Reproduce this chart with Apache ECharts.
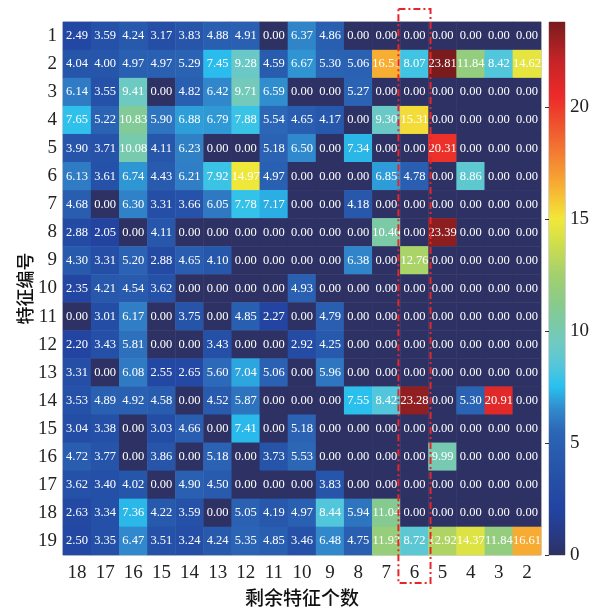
<!DOCTYPE html>
<html>
<head>
<meta charset="utf-8">
<script src="https://cdn.jsdelivr.net/npm/echarts@6/dist/echarts.min.js"></script>
<style>html,body{margin:0;padding:0;background:#fff;}#c{width:601px;height:608px;}</style>
</head>
<body>
<div id="c"></div>
<script>
// Remaining feature count (columns) and feature index (rows)
const remainCounts = ['18','17','16','15','14','13','12','11','10','9','8','7','6','5','4','3','2'];
const featureIds = ['1','2','3','4','5','6','7','8','9','10','11','12','13','14','15','16','17','18','19'];
// values[row][col]
const values = [
  [2.49,3.59,4.24,3.17,3.83,4.88,4.91,0.00,6.37,4.86,0.00,0.00,0.00,0.00,0.00,0.00,0.00],
  [4.04,4.00,4.97,4.97,5.29,7.45,9.28,4.59,6.67,5.30,5.06,16.51,8.07,23.81,11.84,8.42,14.62],
  [6.14,3.55,9.41,0.00,4.82,6.42,9.71,6.59,0.00,0.00,5.27,0.00,0.00,0.00,0.00,0.00,0.00],
  [7.65,5.22,10.83,5.90,6.88,6.79,7.88,5.54,4.65,4.17,0.00,9.30,15.31,0.00,0.00,0.00,0.00],
  [3.90,3.71,10.08,4.11,6.23,0.00,0.00,5.18,6.50,0.00,7.34,0.00,0.00,20.31,0.00,0.00,0.00],
  [6.13,3.61,6.74,4.43,6.21,7.92,14.97,4.97,0.00,0.00,0.00,6.85,4.78,0.00,8.86,0.00,0.00],
  [4.68,0.00,6.30,3.31,3.66,6.05,7.78,7.17,0.00,0.00,4.18,0.00,0.00,0.00,0.00,0.00,0.00],
  [2.88,2.05,0.00,4.11,0.00,0.00,0.00,0.00,0.00,0.00,0.00,10.40,0.00,23.39,0.00,0.00,0.00],
  [4.30,3.31,5.20,2.88,4.65,4.10,0.00,0.00,0.00,0.00,6.38,0.00,12.76,0.00,0.00,0.00,0.00],
  [2.35,4.21,4.54,3.62,0.00,0.00,0.00,0.00,4.93,0.00,0.00,0.00,0.00,0.00,0.00,0.00,0.00],
  [0.00,3.01,6.17,0.00,3.75,0.00,4.85,2.27,0.00,4.79,0.00,0.00,0.00,0.00,0.00,0.00,0.00],
  [2.20,3.43,5.81,0.00,0.00,3.43,0.00,0.00,2.92,4.25,0.00,0.00,0.00,0.00,0.00,0.00,0.00],
  [3.31,0.00,6.08,2.55,2.65,5.60,7.04,5.06,0.00,5.96,0.00,0.00,0.00,0.00,0.00,0.00,0.00],
  [3.53,4.89,4.92,4.58,0.00,4.52,5.87,0.00,0.00,0.00,7.55,8.42,23.28,0.00,5.30,20.91,0.00],
  [3.04,3.38,0.00,3.03,4.66,0.00,7.41,0.00,5.18,0.00,0.00,0.00,0.00,0.00,0.00,0.00,0.00],
  [4.72,3.77,0.00,3.86,0.00,5.18,0.00,3.73,5.53,0.00,0.00,0.00,0.00,9.99,0.00,0.00,0.00],
  [3.62,3.40,4.02,0.00,4.90,4.50,0.00,0.00,0.00,3.83,0.00,0.00,0.00,0.00,0.00,0.00,0.00],
  [2.63,3.34,7.36,4.22,3.59,0.00,5.05,4.19,4.97,8.44,5.94,11.04,0.00,0.00,0.00,0.00,0.00],
  [2.50,3.35,6.47,3.51,3.24,4.24,5.35,4.85,3.46,6.48,4.75,11.93,8.72,12.92,14.37,11.84,16.61]
];
const colorTicks = [0,5,10,15,20];
const highlightCol = '6';
const vMin = 0, vMax = 23.81;

// colormap stops (value, color)
const cmap = [
  [0,'#2e3163'],[1.0,'#283a88'],[2.0,'#2243a0'],[4.0,'#2656aa'],[5.5,'#2c66b6'],
  [6.5,'#3189cc'],[7.5,'#28c0ee'],[8.5,'#55c7da'],[9.5,'#70cac0'],[11,'#84ca92'],
  [12.5,'#a2d06e'],[14,'#d2df4a'],[15,'#f2e83a'],[16.5,'#f8ae32'],[18,'#f37a33'],
  [19.5,'#ee4a2c'],[20.5,'#ec2a29'],[22,'#c82428'],[23.81,'#7a1c1e']
];
function hex2rgb(h){return [parseInt(h.substr(1,2),16),parseInt(h.substr(3,2),16),parseInt(h.substr(5,2),16)];}
function colorAt(v){
  for(let i=0;i<cmap.length-1;i++){
    const a=cmap[i],b=cmap[i+1];
    if(v<=b[0]){
      const t=(v-a[0])/(b[0]-a[0]);const ca=hex2rgb(a[1]),cb=hex2rgb(b[1]);
      return 'rgb('+ca.map((c,k)=>Math.round(c+(cb[k]-c)*t)).join(',')+')';
    }
  }
  return cmap[cmap.length-1][1];
}
const N=96, rampColors=[];
for(let i=0;i<N;i++) rampColors.push(colorAt(vMin+(vMax-vMin)*i/(N-1)));

const heatData=[];
values.forEach((row,r)=>row.forEach((v,c)=>heatData.push([c,r,v])));

const serif='"Liberation Serif","Times New Roman",serif';
const cjk='"Noto Sans CJK SC",sans-serif';
const frameColor='#a8a8a8';

const chart=echarts.init(document.getElementById('c'),null,{renderer:'canvas'});
const tickStyle={show:true,inside:true,length:4,alignWithLabel:true,lineStyle:{color:'#333',width:1}};
chart.setOption({
  backgroundColor:'#fff',
  animation:false,
  grid:[
    {left:63,right:60,top:22,bottom:53,show:true,borderColor:frameColor,borderWidth:1,outerBoundsMode:'none'},
    {left:549,width:16,top:22,bottom:53,show:true,borderColor:frameColor,borderWidth:1,outerBoundsMode:'none'}
  ],
  xAxis:[
    {type:'category',gridIndex:0,data:remainCounts,position:'bottom',
     axisLine:{show:false},axisTick:tickStyle,splitLine:{show:false},
     axisLabel:{fontFamily:serif,fontSize:19,color:'#222',margin:9},
     name:'剩余特征个数',nameLocation:'middle',nameGap:33,nameMoveOverlap:false,
     nameTextStyle:{fontFamily:cjk,fontSize:19,fontWeight:500,color:'#111'}},
    {type:'category',gridIndex:0,data:remainCounts,position:'top',
     axisLine:{show:false},axisTick:tickStyle,axisLabel:{show:false}},
    {type:'value',gridIndex:1,min:0,max:1,show:false}
  ],
  yAxis:[
    {type:'category',gridIndex:0,data:featureIds,inverse:true,position:'left',
     axisLine:{show:false},axisTick:tickStyle,splitLine:{show:false},
     axisLabel:{fontFamily:serif,fontSize:19,color:'#222',margin:6},
     name:'特征编号',nameLocation:'middle',nameGap:29,nameRotate:90,nameMoveOverlap:false,
     nameTextStyle:{fontFamily:cjk,fontSize:18,fontWeight:500,color:'#111'}},
    {type:'category',gridIndex:0,data:featureIds,inverse:true,position:'right',
     axisLine:{show:false},axisTick:tickStyle,axisLabel:{show:false}},
    {type:'value',gridIndex:1,min:vMin,max:vMax,position:'right',
     axisLine:{show:false},splitLine:{show:false},
     axisTick:{show:true,inside:true,length:4,lineStyle:{color:'#333'},customValues:colorTicks},
     axisLabel:{fontFamily:serif,fontSize:19,color:'#222',margin:5,customValues:colorTicks}}
  ],
  visualMap:{type:'continuous',show:false,min:vMin,max:vMax,seriesIndex:0,dimension:2,
    inRange:{color:rampColors}},
  series:[
    {type:'heatmap',xAxisIndex:0,yAxisIndex:0,data:heatData,
     label:{show:true,color:'#fff',fontFamily:serif,fontSize:12.5,
       formatter:p=>p.value[2].toFixed(2)},
     itemStyle:{borderWidth:0},emphasis:{disabled:true}},
    {type:'custom',xAxisIndex:2,yAxisIndex:2,data:[[0,vMin,1,vMax]],silent:true,
     renderItem:(params,api)=>{
       const p0=api.coord([api.value(0),api.value(1)]);
       const p1=api.coord([api.value(2),api.value(3)]);
       const stops=rampColors.map((c,i)=>({offset:1-i/(rampColors.length-1),color:c}));
       return {type:'rect',shape:{x:p0[0],y:p1[1],width:p1[0]-p0[0],height:p0[1]-p1[1]},
         style:{fill:new echarts.graphic.LinearGradient(0,0,0,1,stops)}};
     },z:1},
    {type:'custom',xAxisIndex:0,yAxisIndex:0,data:[[highlightCol,'1']],silent:true,clip:false,z:10,
     renderItem:(params,api)=>{
       const c=api.coord([api.value(0),0]);
       const w=api.size([1,1])[0];
       const cs=params.coordSys;
       return {type:'rect',shape:{x:c[0]-w/2-2,y:cs.y-13,width:w+4,height:cs.height+13+28},
         style:{fill:'none',stroke:'#e8262a',lineWidth:2,lineDash:[7,3,2,3]}};
     }}
  ]
});
</script>
</body>
</html>
